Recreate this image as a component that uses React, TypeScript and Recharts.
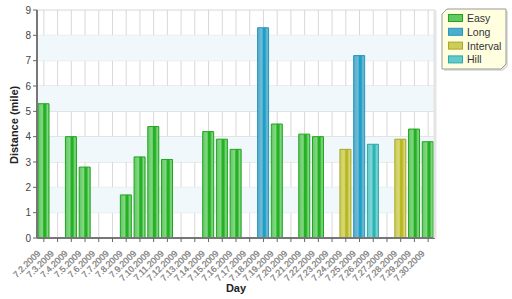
import { BarChart, Bar, XAxis, YAxis, CartesianGrid, ReferenceArea } from 'recharts'

const days = [
  '7.2.2009', '7.3.2009', '7.4.2009', '7.5.2009', '7.6.2009', '7.7.2009', '7.8.2009',
  '7.9.2009', '7.10.2009', '7.11.2009', '7.12.2009', '7.13.2009', '7.14.2009', '7.15.2009',
  '7.16.2009', '7.17.2009', '7.18.2009', '7.19.2009', '7.20.2009', '7.21.2009', '7.22.2009',
  '7.23.2009', '7.24.2009', '7.25.2009', '7.26.2009', '7.27.2009', '7.28.2009', '7.29.2009',
  '7.30.2009',
]

const easy = [5.3, null, 4.0, 2.8, null, null, 1.7, 3.2, 4.4, 3.1, null, null, 4.2, 3.9, 3.5, null, null, 4.5, null, 4.1, 4.0, null, null, null, null, null, null, 4.3, 3.8]
const long = [null, null, null, null, null, null, null, null, null, null, null, null, null, null, null, null, 8.3, null, null, null, null, null, null, 7.2, null, null, null, null, null]
const interval = [null, null, null, null, null, null, null, null, null, null, null, null, null, null, null, null, null, null, null, null, null, null, 3.5, null, null, null, 3.9, null, null]
const hill = [null, null, null, null, null, null, null, null, null, null, null, null, null, null, null, null, null, null, null, null, null, null, null, null, 3.7, null, null, null, null]

const yTicks = [0, 1, 2, 3, 4, 5, 6, 7, 8, 9]
const bands = [[1, 2], [3, 4], [5, 6], [7, 8]]

const series = [
  { key: 'easy', name: 'Easy', light: '#84d884', mid: '#62c862', dark: '#25b025', stroke: '#1fa51f' },
  { key: 'long', name: 'Long', light: '#78bad0', mid: '#4aaed0', dark: '#1ba0cc', stroke: '#2a96b8' },
  { key: 'interval', name: 'Interval', light: '#d8d878', mid: '#cccc58', dark: '#b8b824', stroke: '#a8a828' },
  { key: 'hill', name: 'Hill', light: '#80d6d6', mid: '#62caca', dark: '#2eb4b4', stroke: '#2aa8a8' },
]

const data = days.map((day, i) => ({
  day,
  easy: easy[i],
  long: long[i],
  interval: interval[i],
  hill: hill[i],
}))

const font = '"Liberation Sans", Arial, sans-serif'

function DayTick({ x, y, payload }: any) {
  return (
    <text
      x={x - 3}
      y={y + 10}
      transform={`rotate(-45, ${x - 3}, ${y + 10})`}
      textAnchor="end"
      fontSize={8.8}
      fill="#4a4a4a"
      stroke="#aaa"
      strokeWidth={0.3}
      fontFamily={font}
    >
      {payload.value}
    </text>
  )
}

function LegendBox() {
  return (
    <svg width={70} height={66} style={{ position: 'absolute', left: 440, top: 7 }}>
      <polygon points="7,2 66,2 66,57 61,62 2,62 2,7" fill="#e0e0e0" transform="translate(2,2)" />
      <polygon points="7,2 66,2 66,57 61,62 2,62 2,7" fill="#ffffe0" stroke="#999" strokeWidth={1} />
      {series.map((s, i) => (
        <g key={s.key}>
          <rect x={8.5} y={7.5 + i * 13.8} width={14} height={7} fill={s.mid} stroke={s.stroke} />
          <text x={27} y={15 + i * 13.8} fontSize={10.5} fill="#333" fontFamily={font}>
            {s.name}
          </text>
        </g>
      ))}
    </svg>
  )
}

export default function App() {
  return (
    <div style={{ position: 'absolute', left: 0, top: 0, width: 512, height: 299, background: '#fff' }}>
      <BarChart
        width={512}
        height={299}
        data={data}
        margin={{ top: 10, right: 74, left: 0, bottom: 0 }}
        barSize={11}
      >
        <defs>
          {series.map((s) => (
            <linearGradient key={s.key} id={`grad-${s.key}`} x1="0" y1="0" x2="1" y2="0">
              <stop offset="0%" stopColor={s.mid} />
              <stop offset="40%" stopColor={s.light} />
              <stop offset="52%" stopColor={s.dark} />
              <stop offset="68%" stopColor={s.dark} />
              <stop offset="85%" stopColor={s.light} />
              <stop offset="100%" stopColor={s.mid} />
            </linearGradient>
          ))}
        </defs>
        {bands.map(([a, b]) => (
          <ReferenceArea key={a} y1={a} y2={b} fill="#f0f8fc" fillOpacity={1} stroke="none" ifOverflow="visible" />
        ))}
        <CartesianGrid stroke="#d8d8d8" />
        <XAxis
          dataKey="day"
          interval={0}
          height={61}
          tick={<DayTick />}
          tickLine={{ stroke: '#666' }}
          tickSize={4}
          axisLine={{ stroke: '#777', strokeWidth: 2 }}
          label={{ value: 'Day', position: 'insideBottom', offset: 7, fontSize: 11, fontWeight: 'bold', fill: '#222', fontFamily: font }}
        />
        <YAxis
          domain={[0, 9]}
          ticks={yTicks}
          width={37}
          tickSize={4}
          tick={{ fontSize: 10, fill: '#444', fontFamily: font }}
          tickLine={{ stroke: '#666' }}
          axisLine={{ stroke: '#777', strokeWidth: 2 }}
          label={{ value: 'Distance (mile)', angle: -90, position: 'insideLeft', offset: 14, dy: 40, fontSize: 11, fontWeight: 'bold', fill: '#222', fontFamily: font }}
        />
        <YAxis
          yAxisId="right"
          orientation="right"
          width={3}
          tick={false}
          tickLine={false}
          axisLine={{ stroke: '#e4e4e4', strokeWidth: 3 }}
        />
        {series.map((s) => (
          <Bar
            key={s.key}
            dataKey={s.key}
            name={s.name}
            stackId="run"
            fill={`url(#grad-${s.key})`}
            stroke={s.stroke}
            strokeWidth={1}
            isAnimationActive={false}
          />
        ))}
      </BarChart>
      <LegendBox />
    </div>
  )
}
